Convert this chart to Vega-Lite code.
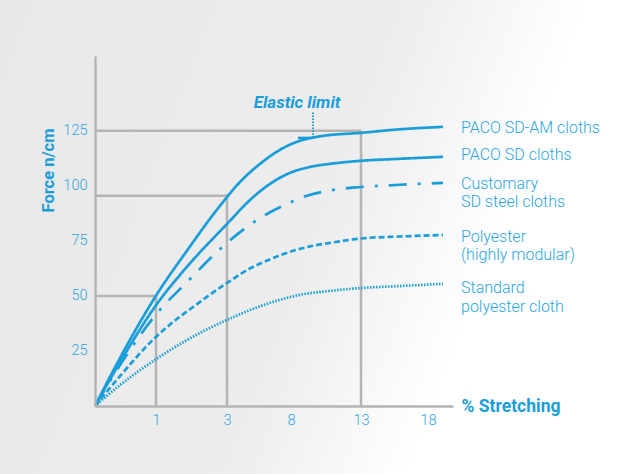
{
  "$schema": "https://vega.github.io/schema/vega-lite/v6.json",
  "width": 358,
  "height": 350,
  "autosize": "none",
  "padding": {"left": 95, "top": 56, "right": 180, "bottom": 68},
  "background": "white",
  "config": {"view": {"stroke": null}, "font": "Roboto"},
  "datasets": {
    "curves": [
      {"s": "PACO SD-AM cloths", "x": 0, "y": 0},
      {"s": "PACO SD-AM cloths", "x": 0.41, "y": 21.8},
      {"s": "PACO SD-AM cloths", "x": 1.03, "y": 50.9},
      {"s": "PACO SD-AM cloths", "x": 1.87, "y": 70.5},
      {"s": "PACO SD-AM cloths", "x": 2.8, "y": 90.9},
      {"s": "PACO SD-AM cloths", "x": 4.02, "y": 101.8},
      {"s": "PACO SD-AM cloths", "x": 5.58, "y": 110},
      {"s": "PACO SD-AM cloths", "x": 7.14, "y": 116.4},
      {"s": "PACO SD-AM cloths", "x": 8.64, "y": 120.5},
      {"s": "PACO SD-AM cloths", "x": 10.07, "y": 122.5},
      {"s": "PACO SD-AM cloths", "x": 13, "y": 124.1},
      {"s": "PACO SD-AM cloths", "x": 15.91, "y": 125.7},
      {"s": "PACO SD-AM cloths", "x": 19.2, "y": 126.8},
      {"s": "PACO SD cloths", "x": 0, "y": 0},
      {"s": "PACO SD cloths", "x": 0.49, "y": 23.6},
      {"s": "PACO SD cloths", "x": 0.98, "y": 45},
      {"s": "PACO SD cloths", "x": 1.87, "y": 63.2},
      {"s": "PACO SD cloths", "x": 3, "y": 82.7},
      {"s": "PACO SD cloths", "x": 4.8, "y": 93.6},
      {"s": "PACO SD cloths", "x": 6.36, "y": 100.9},
      {"s": "PACO SD cloths", "x": 7.92, "y": 105.9},
      {"s": "PACO SD cloths", "x": 9.36, "y": 108.6},
      {"s": "PACO SD cloths", "x": 10.79, "y": 110},
      {"s": "PACO SD cloths", "x": 13, "y": 111.4},
      {"s": "PACO SD cloths", "x": 15.91, "y": 112.3},
      {"s": "PACO SD cloths", "x": 19.2, "y": 113.2},
      {"s": "Customary SD steel cloths", "x": 0, "y": 0},
      {"s": "Customary SD steel cloths", "x": 0.41, "y": 18.6},
      {"s": "Customary SD steel cloths", "x": 0.98, "y": 40.9},
      {"s": "Customary SD steel cloths", "x": 1.96, "y": 57.7},
      {"s": "Customary SD steel cloths", "x": 2.66, "y": 69.1},
      {"s": "Customary SD steel cloths", "x": 4.25, "y": 80},
      {"s": "Customary SD steel cloths", "x": 6.36, "y": 88},
      {"s": "Customary SD steel cloths", "x": 7.69, "y": 91.8},
      {"s": "Customary SD steel cloths", "x": 9.14, "y": 95.5},
      {"s": "Customary SD steel cloths", "x": 10.57, "y": 97.7},
      {"s": "Customary SD steel cloths", "x": 13, "y": 99.5},
      {"s": "Customary SD steel cloths", "x": 15.91, "y": 100.5},
      {"s": "Customary SD steel cloths", "x": 19.2, "y": 101.4},
      {"s": "Polyester (highly modular)", "x": 0, "y": 0},
      {"s": "Polyester (highly modular)", "x": 0.41, "y": 13.6},
      {"s": "Polyester (highly modular)", "x": 0.98, "y": 30.9},
      {"s": "Polyester (highly modular)", "x": 2.24, "y": 47.3},
      {"s": "Polyester (highly modular)", "x": 3, "y": 55.9},
      {"s": "Polyester (highly modular)", "x": 4.8, "y": 62.5},
      {"s": "Polyester (highly modular)", "x": 6.36, "y": 66.6},
      {"s": "Polyester (highly modular)", "x": 8.14, "y": 70.5},
      {"s": "Polyester (highly modular)", "x": 9.36, "y": 72.5},
      {"s": "Polyester (highly modular)", "x": 10.79, "y": 74.1},
      {"s": "Polyester (highly modular)", "x": 13, "y": 76.1},
      {"s": "Polyester (highly modular)", "x": 15.91, "y": 77},
      {"s": "Polyester (highly modular)", "x": 19.2, "y": 77.7},
      {"s": "Standard polyester cloth", "x": 0, "y": 0},
      {"s": "Standard polyester cloth", "x": 0.41, "y": 9.5},
      {"s": "Standard polyester cloth", "x": 0.98, "y": 20.9},
      {"s": "Standard polyester cloth", "x": 2.52, "y": 35.5},
      {"s": "Standard polyester cloth", "x": 3, "y": 39.1},
      {"s": "Standard polyester cloth", "x": 4.8, "y": 43.6},
      {"s": "Standard polyester cloth", "x": 6.59, "y": 47.3},
      {"s": "Standard polyester cloth", "x": 8.64, "y": 50.5},
      {"s": "Standard polyester cloth", "x": 10.79, "y": 52.3},
      {"s": "Standard polyester cloth", "x": 13, "y": 53.6},
      {"s": "Standard polyester cloth", "x": 15.91, "y": 54.5},
      {"s": "Standard polyester cloth", "x": 19.2, "y": 55.5}
    ],
    "refs": [
      {"x0": 0, "y0": 0, "x": 1, "y": 50},
      {"x0": 0, "y0": 0, "x": 3, "y": 95.5},
      {"x0": 0, "y0": 0, "x": 13, "y": 125}
    ],
    "labels": [
      {"t": "PACO SD-AM cloths", "x": 20.64, "y": 126.4},
      {"t": "PACO SD cloths", "x": 20.64, "y": 114.1},
      {"t": "Customary", "x": 20.64, "y": 100.7},
      {"t": "SD steel cloths", "x": 20.64, "y": 92.5},
      {"t": "Polyester", "x": 20.64, "y": 77},
      {"t": "(highly modular)", "x": 20.64, "y": 68.4},
      {"t": "Standard", "x": 20.64, "y": 53.4},
      {"t": "polyester cloth", "x": 20.64, "y": 45}
    ]
  },
  "layer": [
    {
      "data": {"values": [{"x1": -1.56, "x2": 34.4, "y1": 184.6, "y2": -31}]},
      "mark": {
        "type": "rect",
        "color": {
          "gradient": "linear",
          "x1": 0, "y1": 0, "x2": 1, "y2": 0.285,
          "stops": [
            {"offset": 0, "color": "#e8e8e8"},
            {"offset": 0.6, "color": "#ededed"},
            {"offset": 0.86, "color": "#ffffff"}
          ]
        }
      },
      "encoding": {
        "x": {
          "field": "x1", "type": "quantitative",
          "scale": {"domain": [0, 1, 3, 8, 13, 18, 20], "range": [0, 61, 132, 196, 266, 333, 358], "nice": false, "zero": false},
          "axis": {
            "values": [1, 3, 8, 13, 18], "zindex": 1,
            "domainColor": "#b4b4b4", "domainWidth": 2.5, "ticks": false, "grid": false,
            "labelPadding": 7, "labelFontSize": 14.5, "labelColor": "#2aa6e0", "labelFont": "Roboto", "labelFontWeight": 300,
            "title": "% Stretching", "titleX": 366, "titleY": 0, "titleAlign": "left", "titleBaseline": "middle",
            "titleFontSize": 17.5, "titleFontWeight": "bold", "titleColor": "#1a9ed9", "titleFont": "Roboto"
          }
        },
        "x2": {"field": "x2"},
        "y": {
          "field": "y1", "type": "quantitative",
          "scale": {"domain": [0, 159], "nice": false, "zero": false},
          "axis": {
            "values": [25, 50, 75, 100, 125], "zindex": 1,
            "domainColor": "#b4b4b4", "domainWidth": 2.5, "ticks": false, "grid": false,
            "labelPadding": 8, "labelFontSize": 14.5, "labelColor": "#2aa6e0", "labelFont": "Roboto", "labelFontWeight": 300,
            "title": "Force n/cm", "titleX": -47, "titleY": 114, "titleAngle": 270, "titleAlign": "center", "titleBaseline": "middle",
            "titleFontSize": 16.5, "titleFontWeight": "bold", "titleColor": "#1a9ed9", "titleFont": "Roboto"
          }
        },
        "y2": {"field": "y2"}
      }
    },
    {
      "data": {"name": "refs"},
      "mark": {"type": "rule", "color": "#b4b4b4", "strokeWidth": 2.5},
      "encoding": {
        "x": {"field": "x0", "type": "quantitative"},
        "x2": {"field": "x"},
        "y": {"field": "y", "type": "quantitative"}
      }
    },
    {
      "data": {"name": "refs"},
      "mark": {"type": "rule", "color": "#b4b4b4", "strokeWidth": 2.5},
      "encoding": {
        "x": {"field": "x", "type": "quantitative"},
        "y": {"field": "y0", "type": "quantitative"},
        "y2": {"field": "y"}
      }
    },
    {
      "data": {"name": "curves"},
      "mark": {"type": "line", "interpolate": "monotone", "strokeWidth": 2.7, "color": "#1a9ed9"},
      "encoding": {
        "x": {"field": "x", "type": "quantitative"},
        "y": {"field": "y", "type": "quantitative"},
        "strokeDash": {
          "field": "s", "type": "nominal", "legend": null,
          "scale": {
            "domain": ["PACO SD-AM cloths", "PACO SD cloths", "Customary SD steel cloths", "Polyester (highly modular)", "Standard polyester cloth"],
            "range": [[1, 0], [1, 0], [18, 11, 3, 11], [6, 3], [1.5, 1.5]]
          }
        }
      }
    },
    {
      "data": {"values": [{"x": 9.57, "y": 121.8, "y2": 133.6}]},
      "mark": {"type": "rule", "color": "#1a9ed9", "strokeWidth": 2, "strokeDash": [1.5, 1.5]},
      "encoding": {
        "x": {"field": "x", "type": "quantitative"},
        "y": {"field": "y", "type": "quantitative"},
        "y2": {"field": "y2"}
      }
    },
    {
      "data": {"values": [{"x": 8.5, "x2": 9.57, "y": 121.8}]},
      "mark": {"type": "rule", "color": "#1a9ed9", "strokeWidth": 2.5},
      "encoding": {
        "x": {"field": "x", "type": "quantitative"},
        "x2": {"field": "x2"},
        "y": {"field": "y", "type": "quantitative"}
      }
    },
    {
      "data": {"values": [{"t": "Elastic limit", "x": 8.43, "y": 137.7}]},
      "mark": {"type": "text", "fontSize": 17, "fontWeight": "bold", "fontStyle": "italic", "color": "#1a9ed9", "align": "center", "baseline": "middle", "font": "Roboto"},
      "encoding": {
        "x": {"field": "x", "type": "quantitative"},
        "y": {"field": "y", "type": "quantitative"},
        "text": {"field": "t"}
      }
    },
    {
      "data": {"name": "labels"},
      "mark": {"type": "text", "fontSize": 16, "fontWeight": 300, "color": "#2aa6e0", "align": "left", "baseline": "middle", "font": "Roboto"},
      "encoding": {
        "x": {"field": "x", "type": "quantitative"},
        "y": {"field": "y", "type": "quantitative"},
        "text": {"field": "t"}
      }
    }
  ]
}
